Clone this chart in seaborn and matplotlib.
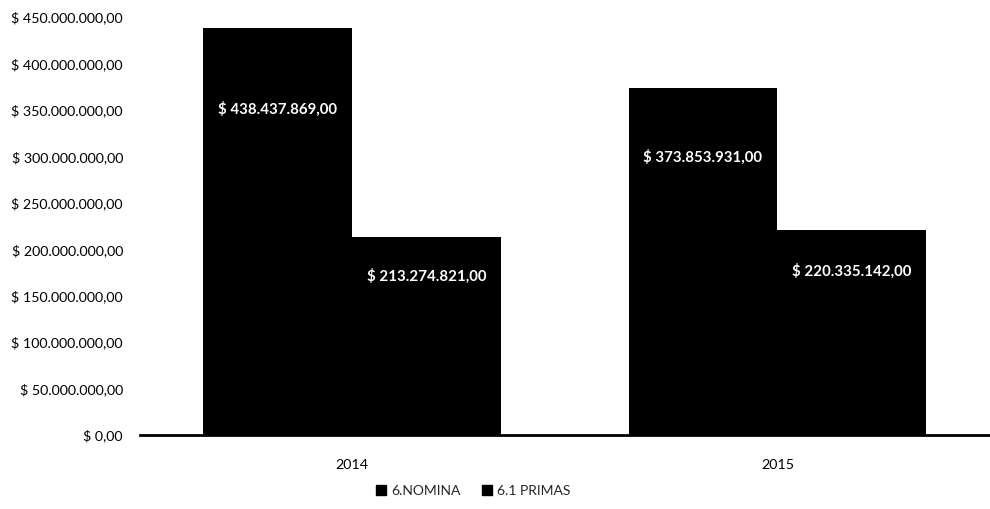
import matplotlib
matplotlib.use("Agg")
import matplotlib.pyplot as plt
import seaborn as sns
import pandas as pd
from matplotlib.ticker import FuncFormatter, MultipleLocator

years = ["2014", "2015"]
series = ["6.NOMINA", "6.1 PRIMAS"]
nomina = [438437869.00, 373853931.00]
primas = [213274821.00, 220335142.00]


def pesos(v, pos=None):
    s = f"{v:,.2f}"
    s = s.replace(",", "X").replace(".", ",").replace("X", ".")
    return f"$ {s}"


df = pd.DataFrame({
    "year": years * 2,
    "serie": [series[0]] * 2 + [series[1]] * 2,
    "value": nomina + primas,
})

sns.set_style("white")
plt.rcParams["font.family"] = ["Lato", "DejaVu Sans"]

fig = plt.figure(figsize=(9.9, 5.09), dpi=100)
ax = fig.add_axes([0.141, 0.145, 0.859, 0.822])

sns.barplot(data=df, x="year", y="value", hue="serie", order=years,
            hue_order=series, palette=["black", "black"], width=0.7,
            edgecolor="black", linewidth=0, ax=ax, legend=False)

ax.set_ylim(0, 450000000)
ax.set_xlim(-0.5, 1.5)
ax.yaxis.set_major_locator(MultipleLocator(50000000))
ax.yaxis.set_major_formatter(FuncFormatter(lambda v, p: "$ 0,00" if v == 0 else pesos(v)))
ax.set_xlabel("")
ax.set_ylabel("")
ax.tick_params(axis="both", length=0, labelsize=10.3, colors="black")
ax.tick_params(axis="y", pad=12)
ax.tick_params(axis="x", pad=17)
for sp in ["top", "right", "left"]:
    ax.spines[sp].set_visible(False)
ax.spines["bottom"].set_color("black")
ax.spines["bottom"].set_linewidth(2)

# value labels inside the bars
for bars in ax.containers:
    for rect in bars:
        h = rect.get_height()
        ax.text(rect.get_x() + rect.get_width() / 2, h * 0.8, pesos(h),
                ha="center", va="center", color="white", fontsize=10.8,
                fontweight="bold")

handles = [plt.Line2D([], [], marker="s", linestyle="", color="black",
                      markersize=7) for _ in series]
fig.legend(handles, series, loc="center", bbox_to_anchor=(0.477, 0.035),
           ncol=2, frameon=False, fontsize=10, handletextpad=0.2,
           columnspacing=1.4, handlelength=1.0)

fig.savefig("out.png", dpi=100)
